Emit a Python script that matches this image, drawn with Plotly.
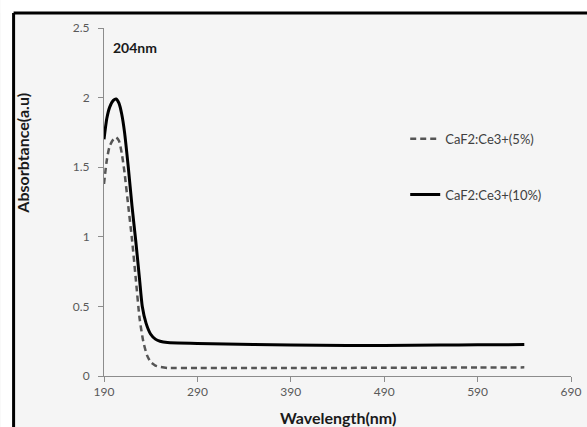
import plotly.graph_objects as go

# Absorbance spectra of Ce3+-doped CaF2 (wavelength in nm)
wl_5 = [190, 193, 196, 200, 203, 206, 209, 212, 216, 220, 224, 228, 232, 236,
        240, 245, 250, 258, 290, 350, 390, 450, 490, 550, 590, 640]
abs_5 = [1.38, 1.55, 1.65, 1.70, 1.715, 1.69, 1.60, 1.46, 1.22, 0.98, 0.70, 0.42,
         0.25, 0.15, 0.10, 0.075, 0.065, 0.058, 0.057, 0.057, 0.058, 0.058, 0.06,
         0.06, 0.061, 0.062]

wl_10 = [190, 193, 196, 200, 203, 206, 209, 212, 216, 220, 224, 228, 231, 235,
         240, 245, 250, 258, 290, 350, 390, 450, 490, 550, 590, 640]
abs_10 = [1.70, 1.85, 1.93, 1.98, 1.99, 1.96, 1.88, 1.75, 1.50, 1.22, 0.97, 0.70,
          0.50, 0.38, 0.30, 0.265, 0.25, 0.24, 0.234, 0.226, 0.222, 0.22, 0.22,
          0.222, 0.224, 0.226]

x_ticks = [190, 290, 390, 490, 590, 690]
y_ticks = [0, 0.5, 1, 1.5, 2, 2.5]
y_ticktext = ["0", "0.5", "1", "1.5", "2", "2.5"]

peak_label = "204nm"
name_5 = "CaF2:Ce3+(5%)"
name_10 = "CaF2:Ce3+(10%)"
x_title = "Wavelength(nm)"
y_title = "Absorbtance(a.u)"

FONT = "Lato, 'Open Sans', sans-serif"
TICK_COLOR = "#595959"
AXIS_COLOR = "#8c8c8c"
TITLE_COLOR = "#1a1a1a"
PANEL = "#f5f5f5"

W, H = 597, 427
ML, MR, MT, MB = 103.5, 26, 28, 51
PW, PH = W - ML - MR, H - MT - MB

# paper coordinates of the figure edges and of the frame
left_edge = -ML / PW
right_edge = (W - ML) / PW
top_edge = (H - MB) / PH
bottom_edge = -MB / PH
frame_x = (13 - ML) / PW
frame_y = (H - MB - 13) / PH

fig = go.Figure()
fig.add_trace(go.Scatter(
    x=wl_5, y=abs_5, mode="lines", name=name_5, legendgroup="a",
    line=dict(color="#555555", width=2.5, dash="6px,4px", shape="spline", smoothing=0.6),
))
fig.add_trace(go.Scatter(
    x=wl_10, y=abs_10, mode="lines", name=name_10, legendgroup="b",
    line=dict(color="#000000", width=3, shape="spline", smoothing=0.6),
))

fig.add_annotation(
    x=197, y=2.36, xref="x", yref="y", text=f"<b>{peak_label}</b>", showarrow=False,
    xanchor="left", yanchor="middle", font=dict(family=FONT, size=14, color=TITLE_COLOR),
)

# vertical axis title, placed in the upper part of the left margin
fig.add_annotation(
    x=-0.174, y=0.641, xref="paper", yref="paper", text=f"<b>{y_title}</b>",
    showarrow=False, textangle=-90, xanchor="center", yanchor="middle",
    font=dict(family=FONT, size=16, color=TITLE_COLOR),
)

# horizontal axis title, centred under the plot area
fig.add_annotation(
    x=0.5, y=(H - MB - 418) / PH, xref="paper", yref="paper",
    text=f"<b>{x_title}</b>", showarrow=False, xanchor="center", yanchor="middle",
    font=dict(family=FONT, size=16, color=TITLE_COLOR),
)

# white strips outside the frame (the page itself is the grey panel colour)
fig.add_shape(
    type="rect", xref="paper", yref="paper",
    x0=left_edge, x1=right_edge, y0=frame_y, y1=top_edge,
    line=dict(width=0), fillcolor="#ffffff", layer="below",
)
fig.add_shape(
    type="rect", xref="paper", yref="paper",
    x0=left_edge, x1=frame_x, y0=bottom_edge, y1=top_edge,
    line=dict(width=0), fillcolor="#ffffff", layer="below",
)
# heavy frame on the top and left edges
fig.add_shape(
    type="line", xref="paper", yref="paper",
    x0=frame_x, x1=right_edge, y0=frame_y, y1=frame_y,
    line=dict(color="#000000", width=3), layer="above",
)
fig.add_shape(
    type="line", xref="paper", yref="paper",
    x0=frame_x, x1=frame_x, y0=bottom_edge, y1=frame_y,
    line=dict(color="#000000", width=3), layer="above",
)

fig.update_layout(
    width=W, height=H,
    margin=dict(l=ML, r=MR, t=MT, b=MB),
    paper_bgcolor=PANEL,
    plot_bgcolor="rgba(0,0,0,0)",
    font=dict(family=FONT, size=12, color=TICK_COLOR),
    showlegend=True,
    legend=dict(
        x=0.645, y=0.725, xanchor="left", yanchor="top",
        bgcolor="rgba(0,0,0,0)", tracegroupgap=36,
        font=dict(family=FONT, size=13, color="#404040"),
    ),
    xaxis=dict(
        range=[190, 690], tickvals=x_ticks, showgrid=False, zeroline=False,
        showline=True, linecolor=AXIS_COLOR, linewidth=1,
        ticks="outside", ticklen=5, tickcolor=AXIS_COLOR,
        tickfont=dict(family=FONT, size=12, color=TICK_COLOR),
    ),
    yaxis=dict(
        range=[0, 2.5], tickvals=y_ticks, ticktext=y_ticktext,
        showgrid=False, zeroline=False,
        showline=True, linecolor=AXIS_COLOR, linewidth=1,
        ticks="outside", ticklen=5, tickcolor=AXIS_COLOR,
        ticklabelstandoff=6,
        tickfont=dict(family=FONT, size=12, color=TICK_COLOR),
    ),
)

fig.write_html("out.html")
